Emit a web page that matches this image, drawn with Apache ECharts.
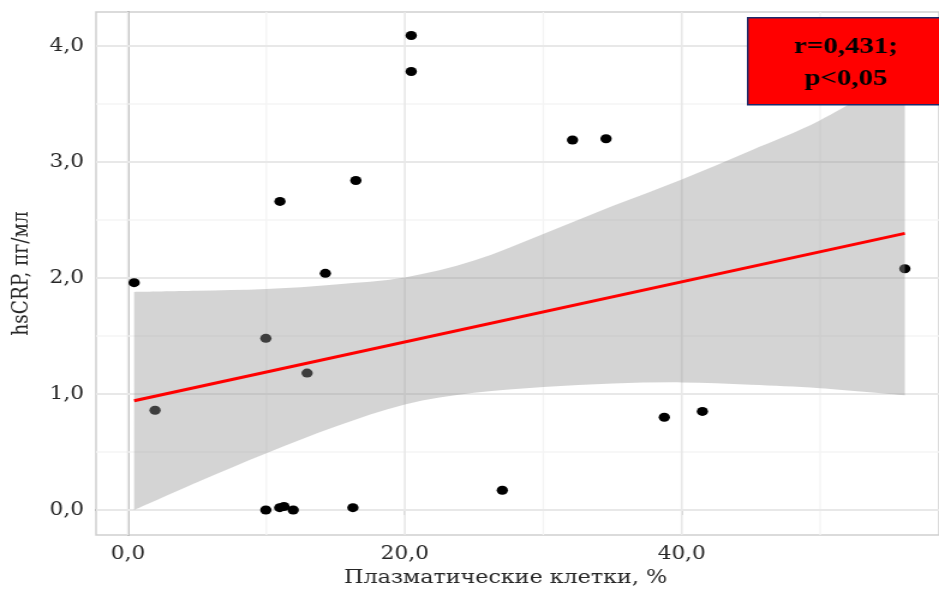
<!DOCTYPE html>
<html>
<head>
<meta charset="utf-8">
<script src="https://cdn.jsdelivr.net/npm/echarts@6/dist/echarts.min.js"></script>
<style>
  html, body { margin: 0; padding: 0; background: #ffffff; overflow: hidden; }
  #wrap { width: 939px; height: 596px; overflow: hidden; position: relative; }
  /* the figure is drawn a little narrower and stretched horizontally */
  #chart { width: 782px; height: 596px; transform: scaleX(1.2008); transform-origin: 0 0; }
</style>
</head>
<body>
<div id="wrap"><div id="chart"></div></div>
<script>
// Plasma cells (%) vs hsCRP (pg/ml)
const plasmaCells = [0.45, 1.96, 10.98, 9.96, 12.94, 9.96, 10.96, 11.27, 11.94, 14.26,
                     16.46, 20.46, 20.46, 32.11, 34.53, 16.25, 27.04, 38.74, 41.49, 56.11];
const hsCRP       = [1.96, 0.86, 2.66, 1.48, 1.18, 0.00, 0.02, 0.03, 0.00, 2.04,
                     2.84, 4.09, 3.78, 3.19, 3.20, 0.02, 0.17, 0.80, 0.85, 2.08];

// Linear fit and its 95% confidence band
const fitX = [0.45, 56.11];
const fitY = [0.942, 2.385];
const bandX     = [0.45, 5, 10, 15, 20, 25, 30, 35, 40, 45, 50, 56.11];
const bandLower = [0.00, 0.24, 0.49, 0.72, 0.91, 1.01, 1.06, 1.09, 1.10, 1.08, 1.05, 0.99];
const bandUpper = [1.88, 1.89, 1.905, 1.945, 2.005, 2.15, 2.38, 2.62, 2.85, 3.10, 3.36, 3.78];

// Axis ticks
const xTicks = [0, 20, 40];
const xMinorTicks = [10, 30, 50];
const xTickLabels = ['0,0', '20,0', '40,0'];
const yTicks = [0, 1, 2, 3, 4];
const yMinorTicks = [0.5, 1.5, 2.5, 3.5];
const yTickLabels = ['0,0', '1,0', '2,0', '3,0', '4,0'];

const xTitle = 'Плазматические клетки, %';
const yTitle = 'hsCRP, пг/мл';
const statText = 'r=0,431;\np<0,05';

const FONT = '"DejaVu Serif", serif';
const chart = echarts.init(document.getElementById('chart'), null, { renderer: 'canvas' });

function gridLines(params, api) {
  const cs = params.coordSys;
  const children = [];
  const vline = (v, color, w) => {
    const x = api.coord([v, 0])[0];
    children.push({ type: 'line', shape: { x1: x, y1: cs.y, x2: x, y2: cs.y + cs.height },
                    style: { stroke: color, lineWidth: w } });
  };
  const hline = (v, color, w) => {
    const y = api.coord([0, v])[1];
    children.push({ type: 'line', shape: { x1: cs.x, y1: y, x2: cs.x + cs.width, y2: y },
                    style: { stroke: color, lineWidth: w } });
  };
  xMinorTicks.forEach(v => vline(v, '#f4f4f4', 1.3));
  yMinorTicks.forEach(v => hline(v, '#f4f4f4', 1.6));
  xTicks.forEach(v => vline(v, '#e8e8e8', 1.6));
  yTicks.forEach(v => hline(v, '#e8e8e8', 2));
  return { type: 'group', children };
}

// Catmull-Rom spline through a list of pixel points, as Bezier segments
function splineSegments(pts) {
  let d = '';
  for (let i = 0; i < pts.length - 1; i++) {
    const p0 = pts[Math.max(i - 1, 0)], p1 = pts[i], p2 = pts[i + 1], p3 = pts[Math.min(i + 2, pts.length - 1)];
    const c1 = [p1[0] + (p2[0] - p0[0]) / 6, p1[1] + (p2[1] - p0[1]) / 6];
    const c2 = [p2[0] - (p3[0] - p1[0]) / 6, p2[1] - (p3[1] - p1[1]) / 6];
    d += ' C' + c1[0] + ' ' + c1[1] + ' ' + c2[0] + ' ' + c2[1] + ' ' + p2[0] + ' ' + p2[1];
  }
  return d;
}

function confidenceBand(params, api) {
  const upper = bandX.map((x, i) => api.coord([x, bandUpper[i]]));
  const lower = bandX.map((x, i) => api.coord([x, bandLower[i]])).reverse();
  const d = 'M' + upper[0][0] + ' ' + upper[0][1] + splineSegments(upper) +
            ' L' + lower[0][0] + ' ' + lower[0][1] + splineSegments(lower) + ' Z';
  return { type: 'path', shape: { pathData: d },
           style: { fill: 'rgba(150,150,150,0.41)', stroke: 'none' } };
}

const option = {
  animation: false,
  backgroundColor: '#ffffff',
  grid: {
    left: 80, right: -4, top: 12, bottom: 61,
    show: true, borderColor: '#cfcfcf', borderWidth: 1.5, backgroundColor: 'transparent'
  },
  xAxis: {
    type: 'value', min: -2.3, max: 58.58,
    name: xTitle, nameLocation: 'middle', nameGap: 34,
    nameTextStyle: { fontFamily: FONT, fontSize: 18.5, color: '#262626', padding: [0, 20, 0, 0] },
    axisLine: { show: true, lineStyle: { color: '#b4b4b4', width: 2 } },
    axisTick: { show: true, customValues: xTicks, length: 5, lineStyle: { color: '#b4b4b4', width: 1.5 } },
    axisLabel: {
      customValues: xTicks, margin: 10, fontFamily: FONT, fontSize: 18, color: '#262626',
      formatter: v => xTickLabels[xTicks.indexOf(v)]
    },
    splitLine: { show: false }
  },
  yAxis: {
    type: 'value', min: -0.2155, max: 4.293,
    name: yTitle, nameLocation: 'middle', nameGap: 52,
    nameTextStyle: { fontFamily: FONT, fontSize: 18.5, color: '#262626' },
    axisLine: { show: true, lineStyle: { color: '#b4b4b4', width: 2 } },
    axisTick: { show: true, customValues: yTicks, length: 5, lineStyle: { color: '#b4b4b4', width: 1.5 } },
    axisLabel: {
      customValues: yTicks, margin: 10, fontFamily: FONT, fontSize: 18, color: '#262626',
      formatter: v => yTickLabels[yTicks.indexOf(Math.round(v * 1000) / 1000)]
    },
    splitLine: { show: false }
  },
  series: [
    { type: 'custom', z: 1, silent: true, clip: true, renderItem: gridLines, data: [[0, 0]] },
    {
      type: 'scatter', z: 2,
      data: plasmaCells.map((x, i) => [x, hsCRP[i]]),
      symbol: 'circle', symbolSize: [9.4, 9],
      itemStyle: { color: '#000000', opacity: 1 }
    },
    { type: 'custom', z: 3, silent: true, clip: false, renderItem: confidenceBand, data: [[0, 0]] },
    {
      type: 'line', z: 4, showSymbol: false, symbol: 'none',
      data: fitX.map((x, i) => [x, fitY[i]]),
      lineStyle: { color: '#ff0000', width: 3 }
    }
  ],
  graphic: [
    {
      type: 'rect', z: 100, left: 622, top: 17,
      shape: { width: 170, height: 87 },
      style: { fill: '#ff0000', stroke: '#1c2a6a', lineWidth: 1.5 }
    },
    {
      type: 'text', z: 101, x: 704.5, y: 62.5,
      style: {
        text: statText, fill: '#000000', align: 'center', verticalAlign: 'middle',
        font: 'bold 24px "Liberation Serif", serif', lineHeight: 32
      }
    }
  ]
};

chart.setOption(option);
</script>
</body>
</html>
